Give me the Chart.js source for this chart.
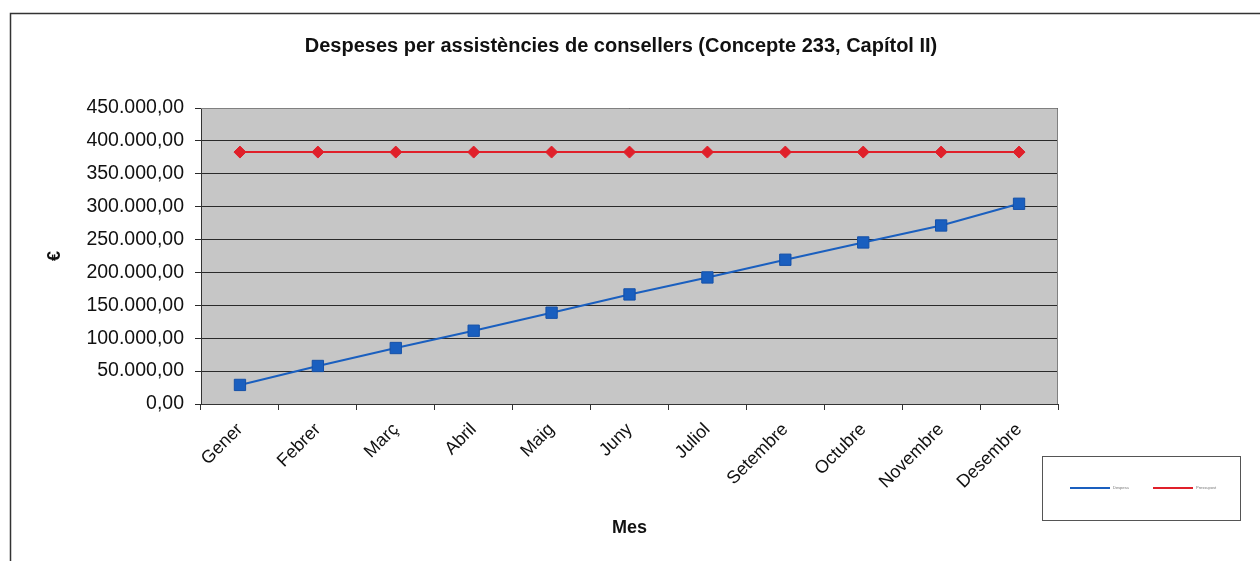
<!DOCTYPE html>
<html>
<head>
<meta charset="utf-8">
<script src="https://cdn.jsdelivr.net/npm/chart.js@4"></script>
<style>
  html, body { margin: 0; padding: 0; background: #fff; }
  #wrap { width: 1260px; height: 561px; }
</style>
</head>
<body>
<div id="wrap"><canvas id="chart" width="1260" height="561"></canvas></div>
<script>
// dades llegides del gràfic
const mesos = ['Gener', 'Febrer', 'Març', 'Abril', 'Maig', 'Juny', 'Juliol', 'Setembre', 'Octubre', 'Novembre', 'Desembre'];
const despesa = [29000, 57800, 85100, 111400, 138800, 166600, 192400, 219300, 245600, 271400, 304400];
const pressupost = [383000, 383000, 383000, 383000, 383000, 383000, 383000, 383000, 383000, 383000, 383000];
const yTickLabels = ['0,00', '50.000,00', '100.000,00', '150.000,00', '200.000,00', '250.000,00', '300.000,00', '350.000,00', '400.000,00', '450.000,00'];
const seriesLabels = ['Despesa', 'Pressupost'];
const titol = 'Despeses per assistències de consellers (Concepte 233, Capítol II)';

const blau = '#1a5fbf';
const vermell = '#e0202a';
const FONT = 'Arial, "Liberation Sans", sans-serif';

// marc, títol i llegenda a l'estil Excel
const decor = {
    id: 'decor',
    beforeDraw(chart) {
        const ctx = chart.ctx;
        const a = chart.chartArea;
        ctx.save();
        // fons de l'àrea de traçat
        ctx.fillStyle = '#c6c6c6';
        ctx.fillRect(a.left, a.top, a.right - a.left, a.bottom - a.top);
        // marc exterior
        ctx.strokeStyle = '#333';
        ctx.lineWidth = 1.5;
        ctx.beginPath();
        ctx.moveTo(10.5, 561);
        ctx.lineTo(10.5, 13.5);
        ctx.lineTo(1260, 13.5);
        ctx.stroke();
        ctx.restore();
    },
    afterDraw(chart) {
        const ctx = chart.ctx;
        const a = chart.chartArea;
        ctx.save();
        // vora de l'àrea de traçat
        ctx.strokeStyle = '#808080';
        ctx.lineWidth = 1;
        ctx.beginPath();
        ctx.moveTo(a.left, a.top + 0.5);
        ctx.lineTo(a.right - 0.5, a.top + 0.5);
        ctx.lineTo(a.right - 0.5, a.bottom);
        ctx.stroke();

        // títol
        ctx.fillStyle = '#111';
        ctx.font = 'bold 20px ' + FONT;
        ctx.textAlign = 'center';
        ctx.textBaseline = 'middle';
        ctx.fillText(titol, 621, 46);

        // llegenda
        const bx = 1042, by = 456, bw = 198, bh = 64;
        ctx.fillStyle = '#fff';
        ctx.fillRect(bx, by, bw, bh);
        ctx.strokeStyle = '#555';
        ctx.lineWidth = 1;
        ctx.strokeRect(bx + 0.5, by + 0.5, bw, bh);
        const items = chart.data.datasets;
        const starts = [1070, 1153];
        items.forEach((ds, i) => {
            const x = starts[i], y = by + 32;
            ctx.strokeStyle = ds.borderColor;
            ctx.lineWidth = 2;
            ctx.beginPath();
            ctx.moveTo(x, y);
            ctx.lineTo(x + 40, y);
            ctx.stroke();
            ctx.fillStyle = '#777';
            ctx.font = '4px ' + FONT;
            ctx.textAlign = 'left';
            ctx.fillText(ds.label, x + 43, y);
        });
        ctx.restore();
    }
};

new Chart(document.getElementById('chart'), {
    type: 'line',
    data: {
        labels: mesos,
        datasets: [{
            label: seriesLabels[0],
            data: despesa,
            borderColor: blau,
            backgroundColor: blau,
            borderWidth: 2,
            pointStyle: 'rect',
            pointRadius: 8,
            pointBorderColor: '#1450a8',
            pointBorderWidth: 1,
            tension: 0
        }, {
            label: seriesLabels[1],
            data: pressupost,
            borderColor: vermell,
            backgroundColor: vermell,
            borderWidth: 2,
            pointStyle: 'rectRot',
            pointRadius: 6,
            pointBorderWidth: 1,
            tension: 0
        }]
    },
    options: {
        responsive: false,
        animation: false,
        layout: {
            padding: { top: 108, right: 202, bottom: 0, left: 0 }
        },
        scales: {
            x: {
                offset: true,
                afterFit: function(scale) { scale.height = 157; },
                grid: {
                    offset: true,
                    drawOnChartArea: false,
                    drawTicks: true,
                    tickLength: 6,
                    color: '#333'
                },
                border: { color: '#333', width: 1 },
                ticks: {
                    minRotation: 45,
                    maxRotation: 45,
                    padding: 9,
                    color: '#111',
                    font: { family: FONT, size: 18 }
                },
                title: {
                    display: true,
                    text: 'Mes',
                    color: '#111',
                    font: { family: FONT, size: 18, weight: 'bold' },
                    padding: { top: 0, bottom: 22 }
                }
            },
            y: {
                min: 0,
                max: 450000,
                afterFit: function(scale) { scale.width = 201; },
                grid: {
                    color: '#2a2a2a',
                    lineWidth: 1,
                    drawTicks: true,
                    tickLength: 6
                },
                border: { color: '#333', width: 1 },
                ticks: {
                    stepSize: 50000,
                    padding: 11,
                    color: '#111',
                    font: { family: FONT, size: 19.5 },
                    callback: function(value, index) { return yTickLabels[index]; }
                },
                title: {
                    display: true,
                    text: '€',
                    color: '#111',
                    font: { family: FONT, size: 18, weight: 'bold' },
                    padding: { top: 44, bottom: 0 }
                }
            }
        },
        plugins: {
            legend: { display: false },
            title: { display: false },
            tooltip: { enabled: false }
        }
    },
    plugins: [decor]
});
</script>
</body>
</html>
